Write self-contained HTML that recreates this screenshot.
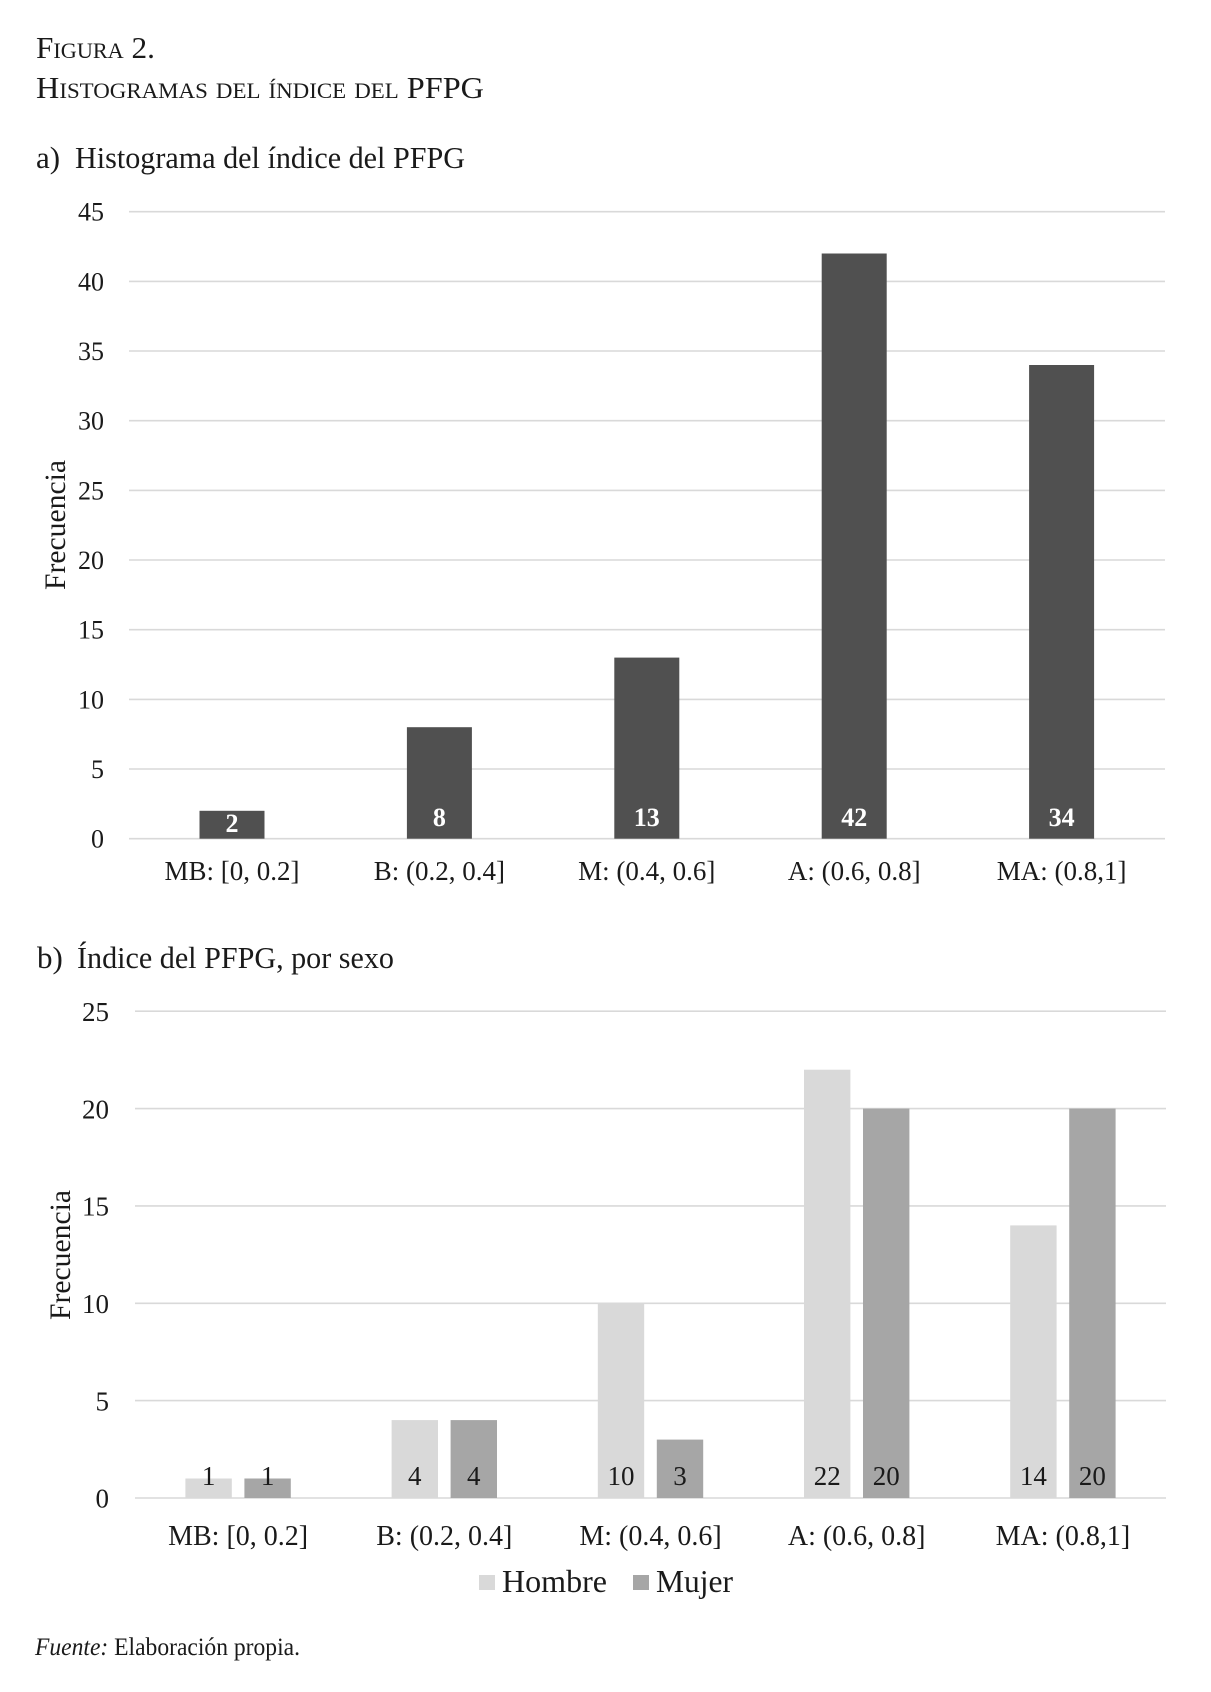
<!DOCTYPE html>
<html>
<head>
<meta charset="utf-8">
<style>
html,body{margin:0;padding:0;background:#fff;}
svg{display:block;}
text{font-family:"Liberation Serif","DejaVu Serif",serif;fill:#1a1a1a;}
</style>
</head>
<body>
<svg width="1211" height="1692" viewBox="0 0 1211 1692" xmlns="http://www.w3.org/2000/svg">
<rect width="1211" height="1692" fill="#fff"/>

<!-- Titles -->
<text x="36" y="58" font-size="31" style="font-variant:small-caps" textLength="119" lengthAdjust="spacingAndGlyphs">Figura 2.</text>
<text x="36" y="98" font-size="31" style="font-variant:small-caps" textLength="448" lengthAdjust="spacingAndGlyphs">Histogramas del índice del PFPG</text>

<text x="36" y="168" font-size="31">a)</text>
<text x="75" y="168" font-size="31" textLength="390" lengthAdjust="spacingAndGlyphs">Histograma del índice del PFPG</text>

<!-- Chart a gridlines -->
<g stroke="#d9d9d9" stroke-width="1.6">
<line x1="129" x2="1165" y1="838.7" y2="838.7"/>
<line x1="129" x2="1165" y1="769.0" y2="769.0"/>
<line x1="129" x2="1165" y1="699.4" y2="699.4"/>
<line x1="129" x2="1165" y1="629.7" y2="629.7"/>
<line x1="129" x2="1165" y1="560.0" y2="560.0"/>
<line x1="129" x2="1165" y1="490.4" y2="490.4"/>
<line x1="129" x2="1165" y1="420.7" y2="420.7"/>
<line x1="129" x2="1165" y1="351.0" y2="351.0"/>
<line x1="129" x2="1165" y1="281.4" y2="281.4"/>
<line x1="129" x2="1165" y1="211.7" y2="211.7"/>
</g>
<g font-size="26" text-anchor="end">
<text x="104" y="847.7">0</text>
<text x="104" y="778.0">5</text>
<text x="104" y="708.4">10</text>
<text x="104" y="638.7">15</text>
<text x="104" y="569.0">20</text>
<text x="104" y="499.4">25</text>
<text x="104" y="429.7">30</text>
<text x="104" y="360.0">35</text>
<text x="104" y="290.4">40</text>
<text x="104" y="220.7">45</text>
</g>
<text transform="translate(65,525) rotate(-90)" font-size="30" text-anchor="middle" textLength="130" lengthAdjust="spacingAndGlyphs">Frecuencia</text>

<!-- Chart a bars -->
<g fill="#505050">
<rect x="199.5" y="810.8" width="65" height="27.9"/>
<rect x="406.9" y="727.2" width="65" height="111.5"/>
<rect x="614.3" y="657.6" width="65" height="181.1"/>
<rect x="821.7" y="253.5" width="65" height="585.2"/>
<rect x="1029.1" y="365.0" width="65" height="473.7"/>
</g>
<g font-size="26" font-weight="bold" text-anchor="middle">
<text x="232" y="832" style="fill:#fff">2</text>
<text x="439.4" y="826" style="fill:#fff">8</text>
<text x="646.8" y="826" style="fill:#fff">13</text>
<text x="854.2" y="826" style="fill:#fff">42</text>
<text x="1061.6" y="826" style="fill:#fff">34</text>
</g>
<g font-size="27" text-anchor="middle">
<text x="232" y="880">MB: [0, 0.2]</text>
<text x="439.4" y="880">B: (0.2, 0.4]</text>
<text x="646.8" y="880">M: (0.4, 0.6]</text>
<text x="854.2" y="880">A: (0.6, 0.8]</text>
<text x="1061.6" y="880">MA: (0.8,1]</text>
</g>

<!-- Chart b title -->
<text x="37" y="968" font-size="31">b)</text>
<text x="77" y="968" font-size="31" textLength="317" lengthAdjust="spacingAndGlyphs">Índice del PFPG, por sexo</text>

<!-- Chart b gridlines -->
<g stroke="#d9d9d9" stroke-width="1.6">
<line x1="135" x2="1166" y1="1498" y2="1498"/>
<line x1="135" x2="1166" y1="1400.6" y2="1400.6"/>
<line x1="135" x2="1166" y1="1303.3" y2="1303.3"/>
<line x1="135" x2="1166" y1="1205.9" y2="1205.9"/>
<line x1="135" x2="1166" y1="1108.6" y2="1108.6"/>
<line x1="135" x2="1166" y1="1011.2" y2="1011.2"/>
</g>
<g font-size="27" text-anchor="end">
<text x="109" y="1507.7">0</text>
<text x="109" y="1410.3">5</text>
<text x="109" y="1313.0">10</text>
<text x="109" y="1215.6">15</text>
<text x="109" y="1118.3">20</text>
<text x="109" y="1020.9">25</text>
</g>
<text transform="translate(70,1255) rotate(-90)" font-size="30" text-anchor="middle" textLength="130" lengthAdjust="spacingAndGlyphs">Frecuencia</text>

<!-- Chart b bars: Hombre -->
<g fill="#d9d9d9">
<rect x="185.4" y="1478.5" width="46.4" height="19.5"/>
<rect x="391.6" y="1420.1" width="46.4" height="77.9"/>
<rect x="597.8" y="1303.3" width="46.4" height="194.7"/>
<rect x="804.0" y="1069.7" width="46.4" height="428.3"/>
<rect x="1010.2" y="1225.4" width="46.4" height="272.6"/>
</g>
<!-- Mujer -->
<g fill="#a6a6a6">
<rect x="244.4" y="1478.5" width="46.4" height="19.5"/>
<rect x="450.6" y="1420.1" width="46.4" height="77.9"/>
<rect x="656.8" y="1439.6" width="46.4" height="58.4"/>
<rect x="863.0" y="1108.6" width="46.4" height="389.4"/>
<rect x="1069.2" y="1108.6" width="46.4" height="389.4"/>
</g>
<g font-size="27" text-anchor="middle">
<text x="208.6" y="1485">1</text>
<text x="267.6" y="1485">1</text>
<text x="414.8" y="1485">4</text>
<text x="473.8" y="1485">4</text>
<text x="621.0" y="1485">10</text>
<text x="680.0" y="1485">3</text>
<text x="827.2" y="1485">22</text>
<text x="886.2" y="1485">20</text>
<text x="1033.4" y="1485">14</text>
<text x="1092.4" y="1485">20</text>
</g>
<g font-size="28" text-anchor="middle">
<text x="238.1" y="1545">MB: [0, 0.2]</text>
<text x="444.3" y="1545">B: (0.2, 0.4]</text>
<text x="650.5" y="1545">M: (0.4, 0.6]</text>
<text x="856.7" y="1545">A: (0.6, 0.8]</text>
<text x="1062.9" y="1545">MA: (0.8,1]</text>
</g>

<!-- Legend -->
<rect x="479" y="1575" width="16" height="15" fill="#d9d9d9"/>
<text x="502" y="1592" font-size="32" textLength="105" lengthAdjust="spacingAndGlyphs">Hombre</text>
<rect x="633" y="1575" width="16" height="15" fill="#a6a6a6"/>
<text x="656" y="1592" font-size="32" textLength="77" lengthAdjust="spacingAndGlyphs">Mujer</text>

<!-- Source -->
<text x="35" y="1655" font-size="25" textLength="265" lengthAdjust="spacingAndGlyphs"><tspan font-style="italic">Fuente:</tspan> Elaboración propia.</text>
</svg>
</body>
</html>
